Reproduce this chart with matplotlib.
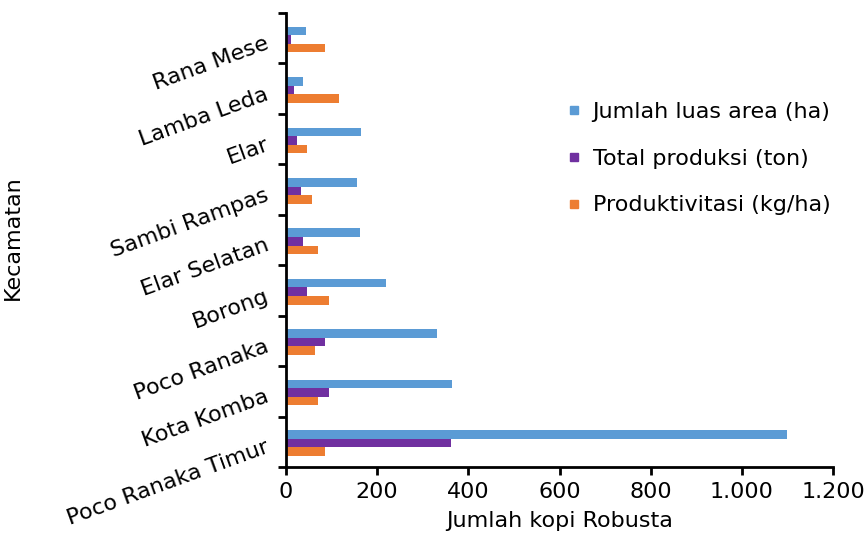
import matplotlib
matplotlib.use("Agg")
import matplotlib.pyplot as plt
from matplotlib.lines import Line2D
from matplotlib.transforms import ScaledTranslation
import numpy as np

plt.rcParams['font.family'] = ['DejaVu Sans']

# Data (top to bottom as in the chart)
kecamatan = ["Rana Mese", "Lamba Leda", "Elar", "Sambi Rampas", "Elar Selatan",
             "Borong", "Poco Ranaka", "Kota Komba", "Poco Ranaka Timur"]
luas_area = [43, 38, 165, 156, 162, 219, 331, 364, 1100]
total_produksi = [10, 17, 24, 34, 38, 46, 85, 95, 361]
produktivitas = [85, 116, 46, 57, 71, 95, 63, 71, 85]
series_labels = ["Jumlah luas area (ha)", "Total produksi (ton)", "Produktivitasi (kg/ha)"]
x_ticks = [0, 200, 400, 600, 800, 1000, 1200]
x_tick_labels = ["0", "200", "400", "600", "800", "1.000", "1.200"]

colors = ["#5B9BD5", "#7030A0", "#ED7D31"]
FS = 16

fig = plt.figure(figsize=(8.65, 5.35), dpi=100)
ax = fig.add_axes([286/865, (535-467)/535, (833-286)/865, (467-13)/535])

n = len(kecamatan)
# bottom category at y=0
ypos = np.arange(n)[::-1].astype(float)
h = 0.17
for vals, col, off in zip([luas_area, total_produksi, produktivitas], colors, [h, 0, -h]):
    ax.barh(ypos + off - 0.025, vals, height=h, color=col, edgecolor='none')

ax.set_ylim(-0.5, n - 0.5)
ax.set_xlim(0, 1200)
ax.set_xticks(x_ticks)
ax.set_xticklabels(x_tick_labels, fontsize=FS)
ax.tick_params(axis='x', direction='out', length=6, width=2, pad=5)

# category boundaries as major ticks, labels on minor ticks
ax.set_yticks(np.arange(-0.5, n, 1.0))
ax.set_yticklabels([])
ax.tick_params(axis='y', which='major', direction='out', length=6, width=2)
ax.set_yticks(ypos, minor=True)
ax.set_yticklabels(kecamatan, minor=True, fontsize=FS, rotation=20,
                   ha='right', va='center', rotation_mode='anchor')
ax.tick_params(axis='y', which='minor', length=0, pad=13)
for lab in ax.get_yticklabels(minor=True):
    lab.set_transform(lab.get_transform() + ScaledTranslation(0, -3.5/72, fig.dpi_scale_trans))

for s in ['top', 'right']:
    ax.spines[s].set_visible(False)
for s in ['left', 'bottom']:
    ax.spines[s].set_linewidth(2)

fig.text(559.5/865, 1 - 521/535, "Jumlah kopi Robusta", fontsize=FS, ha='center', va='center')
fig.text(13/865, 1 - 238/535, "Kecamatan", fontsize=FS, ha='center', va='center', rotation=90)

handles = [Line2D([0], [0], marker='s', linestyle='none', markersize=5.5,
                  markerfacecolor=c, markeredgecolor=c) for c in colors]
fig.legend(handles, series_labels, loc='upper left',
           bbox_to_anchor=(557/865, 1 - 91/535), frameon=False, fontsize=FS,
           handlelength=0.5, handletextpad=0.6, labelspacing=1.2, borderpad=0)

fig.savefig("out.png", dpi=100)
